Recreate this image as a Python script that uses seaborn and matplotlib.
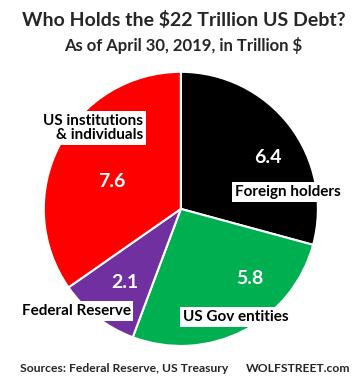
import matplotlib
matplotlib.use('Agg')
import matplotlib.pyplot as plt
import seaborn as sns

sns.set_theme(style='white')
plt.rcParams['font.family'] = ['Lato', 'DejaVu Sans']

# data
holders = ['Foreign holders', 'US Gov entities', 'Federal Reserve', 'US institutions\n& individuals']
values = [6.4, 5.8, 2.1, 7.6]
colors = ['#000000', '#00B050', '#7030A0', '#FF0000']

fig = plt.figure(figsize=(3.56, 3.84), dpi=100)
ax = fig.add_axes([0.508 - 0.385, 0.456 - 0.357, 0.77, 0.714])

wedges, _ = ax.pie(values, colors=colors, startangle=90, counterclock=False,
                   wedgeprops=dict(edgecolor='white', linewidth=1.5))
ax.set_xlim(-1, 1)
ax.set_ylim(-1, 1)
ax.set_aspect('equal')

W, H = 356, 384
def px(x, y):
    return x / W, 1 - y / H

# value labels (white, bold) and name labels (white boxes)
val_pos = [(268, 157), (250, 278), (125, 282), (112, 182)]
name_pos = [(288, 192, 'center'), (236, 317, 'center'), (76, 311, 'center'), (143, 128, 'right')]
for v, (x, y) in zip(values, val_pos):
    fig.text(*px(x, y), f'{v:.1f}', color='white', fontsize=14, fontweight='bold',
             ha='center', va='center')
for name, (x, y, ha) in zip(holders, name_pos):
    fig.text(*px(x, y), name, color='black', fontsize=11, fontweight='bold',
             ha=ha, va='center', linespacing=1.05,
             bbox=dict(facecolor='white', edgecolor='none', pad=2))

fig.text(*px(184, 20), 'Who Holds the \\$22 Trillion US Debt?', fontsize=14,
         fontweight='bold', ha='center', va='center')
fig.text(*px(183, 46), 'As of April 30, 2019, in Trillion \\$', fontsize=12,
         fontweight='bold', ha='center', va='center')
fig.text(*px(20, 369), 'Sources: Federal Reserve, US Treasury', fontsize=8.7,
         fontweight='bold', ha='left', va='center')
fig.text(*px(350, 369), 'WOLFSTREET.com', fontsize=8.7,
         fontweight='bold', ha='right', va='center')

fig.savefig('out.png', dpi=100, facecolor='white')
